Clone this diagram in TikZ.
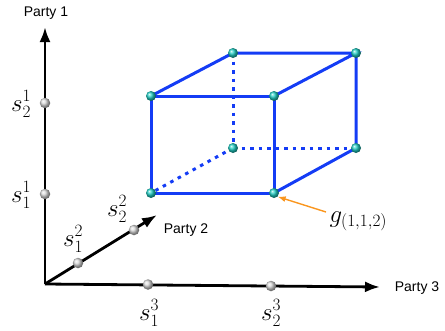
\documentclass[tikz,border=0pt]{standalone}
\usepackage{fontspec}
\setsansfont{Liberation Sans}
\usetikzlibrary{arrows.meta}
\definecolor{cubeblue}{RGB}{20,60,245}
\definecolor{vteal}{RGB}{30,205,195}
\definecolor{gorange}{RGB}{250,150,30}
\tikzset{
  axis/.style={line width=2.8pt,-{Latex[length=15pt,width=11pt]}},
  edge/.style={cubeblue,line width=3pt},
  hidden/.style={cubeblue,line width=3pt,dash pattern=on 3.5pt off 5pt},
  vdot/.style={circle,inner sep=0pt,minimum size=10pt,ball color=vteal},
  adot/.style={circle,inner sep=0pt,minimum size=10.5pt,ball color=black!15},
  plabel/.style={font=\sffamily\fontsize{14}{16}\selectfont},
  mlabel/.style={font=\fontsize{23}{25}\selectfont},
}
\begin{document}
\begin{tikzpicture}[x=1pt,y=-1pt]
\useasboundingbox (0,0) rectangle (445,330);
% axes
\coordinate (O) at (45,284);
\coordinate (A1) at (45,27);
\coordinate (A2) at (157,215);
\coordinate (A3) at (380,287);
\draw[axis] (O) -- (A1);
\draw[axis] (O) -- (A2);
\draw[axis] (O) -- (A3);
\node[plabel] (p1) at (46,13) {Party 1};
\node[plabel] (p2) at (186,230) {Party 2};
\node[plabel] (p3) at (417,288) {Party 3};
% axis points
\node[adot] (s11) at (45,194) {};
\node[adot] (s12) at (45,103) {};
\node[adot] (s21) at (78,263) {};
\node[adot] (s22) at (134,230) {};
\node[adot] (s31) at (148,284.5) {};
\node[adot] (s32) at (271,286) {};
\node[mlabel] (l12) at (21,104) {$s^1_2$};
\node[mlabel] (l11) at (21,195) {$s^1_1$};
\node[mlabel] (l21) at (73,239) {$s^2_1$};
\node[mlabel] (l22) at (117,209) {$s^2_2$};
\node[mlabel] (l31) at (149,313) {$s^3_1$};
\node[mlabel] (l32) at (271,313) {$s^3_2$};
% cube
\coordinate (FTL) at (151,96);
\coordinate (FTR) at (274,96);
\coordinate (FBL) at (151,193);
\coordinate (FBR) at (274,193);
\coordinate (BTL) at (233,53);
\coordinate (BTR) at (356,53);
\coordinate (BBL) at (233,148);
\coordinate (BBR) at (356,148);
\draw[hidden] (BTL) -- (BBL);
\draw[hidden] (BBL) -- (BBR);
\draw[hidden] (BBL) -- (FBL);
\draw[edge] (FTL) -- (FTR) -- (FBR) -- (FBL) -- cycle;
\draw[edge] (FTL) -- (BTL) -- (BTR) -- (FTR);
\draw[edge] (BTR) -- (BBR) -- (FBR);
\foreach \p in {FTL,FTR,FBL,FBR,BTL,BTR,BBL,BBR}
  \node[vdot] (v\p) at (\p) {};
% label g
\node[mlabel,anchor=west] (g) at (326,221) {$g_{(1,1,2)}$};
\draw[gorange,line width=1.4pt,-{Latex[length=8pt,width=6pt]}] (g.west) ++(0,-9) coordinate (gs) -- (vFBR.south east);
\end{tikzpicture}
\end{document}
